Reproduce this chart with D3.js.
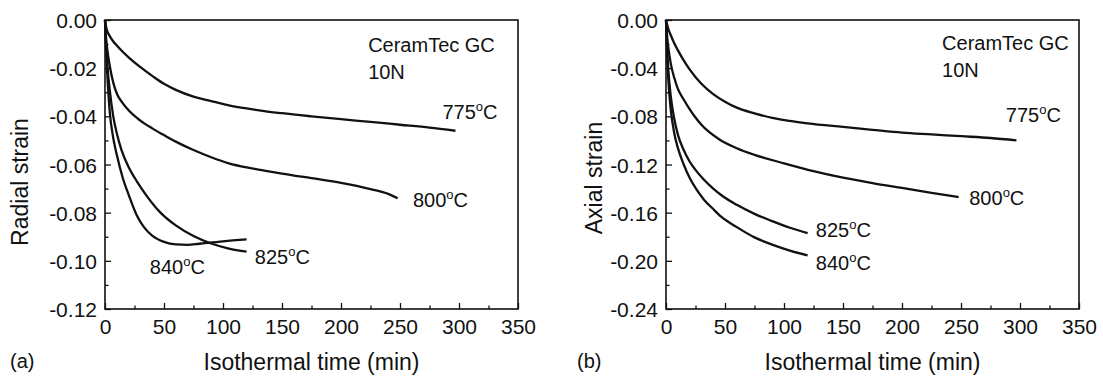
<!DOCTYPE html>
<html lang="en">
<head>
<meta charset="utf-8">
<title>Isothermal strain</title>
<script src="https://cdn.jsdelivr.net/npm/d3@7"></script>
<style>
  html, body { margin: 0; padding: 0; background: #fff; }
  svg { display: block; font-family: "Liberation Sans", Arial, sans-serif; }
</style>
</head>
<body>
<div id="chart"></div>
<script>
// time (min), strain pairs
var radial775 = [[0,0],[1,-0.003],[2,-0.0047],[4,-0.0067],[7,-0.0089],[10,-0.0106],[15,-0.0132],[20,-0.0155],[30,-0.0196],[40,-0.0232],[50,-0.0265],[60,-0.029],[75,-0.0318],[90,-0.0337],[105,-0.0354],[120,-0.0367],[135,-0.0378],[150,-0.0387],[175,-0.04],[200,-0.0412],[225,-0.0423],[250,-0.0435],[275,-0.0447],[297,-0.046]];
var radial800 = [[0,0],[1,-0.008],[2,-0.0125],[4,-0.019],[7,-0.026],[10,-0.0305],[15,-0.0345],[20,-0.0375],[30,-0.0418],[40,-0.045],[50,-0.0478],[60,-0.0505],[75,-0.054],[90,-0.057],[105,-0.0595],[120,-0.0612],[135,-0.0625],[150,-0.0638],[175,-0.0657],[200,-0.0676],[225,-0.0702],[240,-0.0722],[248,-0.074]];
var radial825 = [[0,0],[1,-0.011],[2,-0.019],[4,-0.029],[7,-0.04],[10,-0.047],[14,-0.054],[20,-0.061],[27,-0.067],[35,-0.0728],[47,-0.08],[60,-0.0853],[75,-0.0897],[90,-0.0928],[105,-0.0949],[120,-0.0962]];
var radial840 = [[0,0],[1,-0.013],[2,-0.023],[4,-0.038],[7,-0.049],[10,-0.056],[15,-0.0655],[20,-0.0725],[27,-0.0812],[33,-0.086],[40,-0.0895],[50,-0.0921],[60,-0.0932],[70,-0.0934],[80,-0.0929],[100,-0.0919],[120,-0.0911]];

var axial775 = [[0,0],[1,-0.004],[2,-0.0075],[4,-0.0125],[7,-0.0194],[10,-0.025],[15,-0.0335],[20,-0.041],[30,-0.053],[40,-0.0615],[50,-0.0678],[60,-0.0728],[75,-0.0775],[90,-0.0813],[105,-0.0838],[120,-0.0858],[150,-0.0888],[175,-0.0912],[200,-0.0935],[225,-0.095],[250,-0.0965],[275,-0.098],[297,-0.0999]];
var axial800 = [[0,0],[1,-0.014],[2,-0.023],[4,-0.036],[7,-0.048],[10,-0.057],[15,-0.066],[20,-0.074],[25,-0.081],[30,-0.087],[45,-0.099],[60,-0.1065],[75,-0.112],[100,-0.119],[125,-0.1255],[150,-0.131],[175,-0.1355],[200,-0.1395],[225,-0.1435],[248,-0.147]];
var axial825 = [[0,0],[1,-0.025],[2,-0.042],[4,-0.063],[7,-0.082],[10,-0.095],[15,-0.108],[20,-0.1175],[25,-0.1245],[32,-0.1325],[40,-0.14],[47,-0.1455],[60,-0.1535],[75,-0.161],[90,-0.167],[105,-0.1725],[120,-0.177]];
var axial840 = [[0,0],[1,-0.03],[2,-0.05],[4,-0.074],[7,-0.094],[10,-0.106],[15,-0.12],[20,-0.131],[25,-0.1395],[32,-0.149],[40,-0.157],[47,-0.1635],[60,-0.172],[75,-0.1805],[90,-0.1865],[105,-0.1915],[120,-0.1955]];

var temps = ["775", "800", "825", "840"];
var xTicks = [0, 50, 100, 150, 200, 250, 300, 350];
var xMinor = [25, 75, 125, 175, 225, 275, 325];
var radialTicks = [0, -0.02, -0.04, -0.06, -0.08, -0.10, -0.12];
var radialMinor = [-0.01, -0.03, -0.05, -0.07, -0.09, -0.11];
var axialTicks = [0, -0.04, -0.08, -0.12, -0.16, -0.20, -0.24];
var axialMinor = [-0.02, -0.06, -0.10, -0.14, -0.18, -0.22];

var W = 1103, H = 377;
var svg = d3.select("#chart").append("svg")
  .attr("width", W).attr("height", H);
svg.append("rect").attr("width", W).attr("height", H).attr("fill", "#fff");

function drawPanel(p) {
  var x = d3.scaleLinear().domain([0, 350]).range([p.left, p.right]);
  var y = d3.scaleLinear().domain([p.ymin, 0]).range([p.bottom, p.top]);
  var g = svg.append("g");

  // curves
  var line = d3.line()
    .x(function(d) { return x(d[0]); })
    .y(function(d) { return y(d[1]); })
    .curve(d3.curveMonotoneX);
  g.selectAll("path.curve")
    .data(p.series)
    .enter().append("path")
    .attr("class", "curve")
    .attr("d", line)
    .attr("fill", "none")
    .attr("stroke", "#111")
    .attr("stroke-width", 2.3);

  // frame
  g.append("rect")
    .attr("x", p.left).attr("y", p.top)
    .attr("width", p.right - p.left).attr("height", p.bottom - p.top)
    .attr("fill", "none").attr("stroke", "#111").attr("stroke-width", 1.6);

  // axes, ticks pointing inward
  var xAxis = g.append("g").attr("transform", "translate(0," + p.bottom + ")")
    .call(d3.axisBottom(x).tickValues(xTicks).tickSize(-6).tickPadding(9)
      .tickFormat(function(d) { return d; }));
  g.append("g").attr("transform", "translate(0," + p.bottom + ")")
    .call(d3.axisBottom(x).tickValues(xMinor).tickSize(-3.5).tickFormat(""));
  var yAxis = g.append("g").attr("transform", "translate(" + p.left + ",0)")
    .call(d3.axisLeft(y).tickValues(p.ticks).tickSize(-6).tickPadding(8)
      .tickFormat(function(d) { return d.toFixed(2); }));
  g.append("g").attr("transform", "translate(" + p.left + ",0)")
    .call(d3.axisLeft(y).tickValues(p.minor).tickSize(-3.5).tickFormat(""));

  g.selectAll(".domain").remove();
  g.selectAll(".tick line").attr("stroke", "#111").attr("stroke-width", 1.3);
  g.selectAll(".tick text").attr("fill", "#111")
    .style("font-family", "'Liberation Sans', Arial, sans-serif").style("font-size", "21px");
  yAxis.selectAll(".tick text").attr("dy", "0.36em");
  xAxis.selectAll(".tick text").attr("dy", "0.75em");

  // axis titles
  g.append("text")
    .attr("x", (p.left + p.right) / 2).attr("y", 370)
    .attr("text-anchor", "middle").attr("font-size", 23).attr("fill", "#111")
    .text("Isothermal time (min)");
  g.append("text")
    .attr("transform", "translate(" + p.ytx + "," + p.yty + ") rotate(-90)")
    .attr("text-anchor", "middle").attr("font-size", 23).attr("fill", "#111")
    .text(p.ylabel);
  g.append("text")
    .attr("x", p.tagx).attr("y", 368)
    .attr("font-size", 20).attr("fill", "#111")
    .text(p.tag);

  // annotations
  g.append("text").attr("x", x(p.note[0])).attr("y", y(p.note[1]))
    .attr("font-size", 20).attr("fill", "#111").text("CeramTec GC");
  g.append("text").attr("x", x(p.note[0])).attr("y", y(p.note[1]) + 27)
    .attr("font-size", 20).attr("fill", "#111").text("10N");

  p.labels.forEach(function(l, i) {
    var t = g.append("text").attr("x", x(l[0])).attr("y", y(l[1]))
      .attr("font-size", 20).attr("fill", "#111");
    t.append("tspan").text(temps[i]);
    t.append("tspan").attr("font-size", 13).attr("dy", -8).text("o");
    t.append("tspan").attr("dy", 8).text("C");
  });
}

drawPanel({
  left: 105, right: 518, top: 20, bottom: 309, ymin: -0.12,
  ticks: radialTicks, minor: radialMinor,
  series: [radial775, radial800, radial825, radial840],
  ylabel: "Radial strain", ytx: 28, yty: 182, tag: "(a)", tagx: 10,
  note: [223, -0.0133],
  labels: [[286, -0.0411], [261, -0.0776], [127, -0.1013], [38, -0.1055]]
});
drawPanel({
  left: 666, right: 1079, top: 20, bottom: 309, ymin: -0.24,
  ticks: axialTicks, minor: axialMinor,
  series: [axial775, axial800, axial825, axial840],
  ylabel: "Axial strain", ytx: 602, yty: 178, tag: "(b)", tagx: 577,
  note: [234, -0.0249],
  labels: [[288, -0.0847], [257, -0.1536], [127, -0.1802], [127, -0.2076]]
});
</script>
</body>
</html>
